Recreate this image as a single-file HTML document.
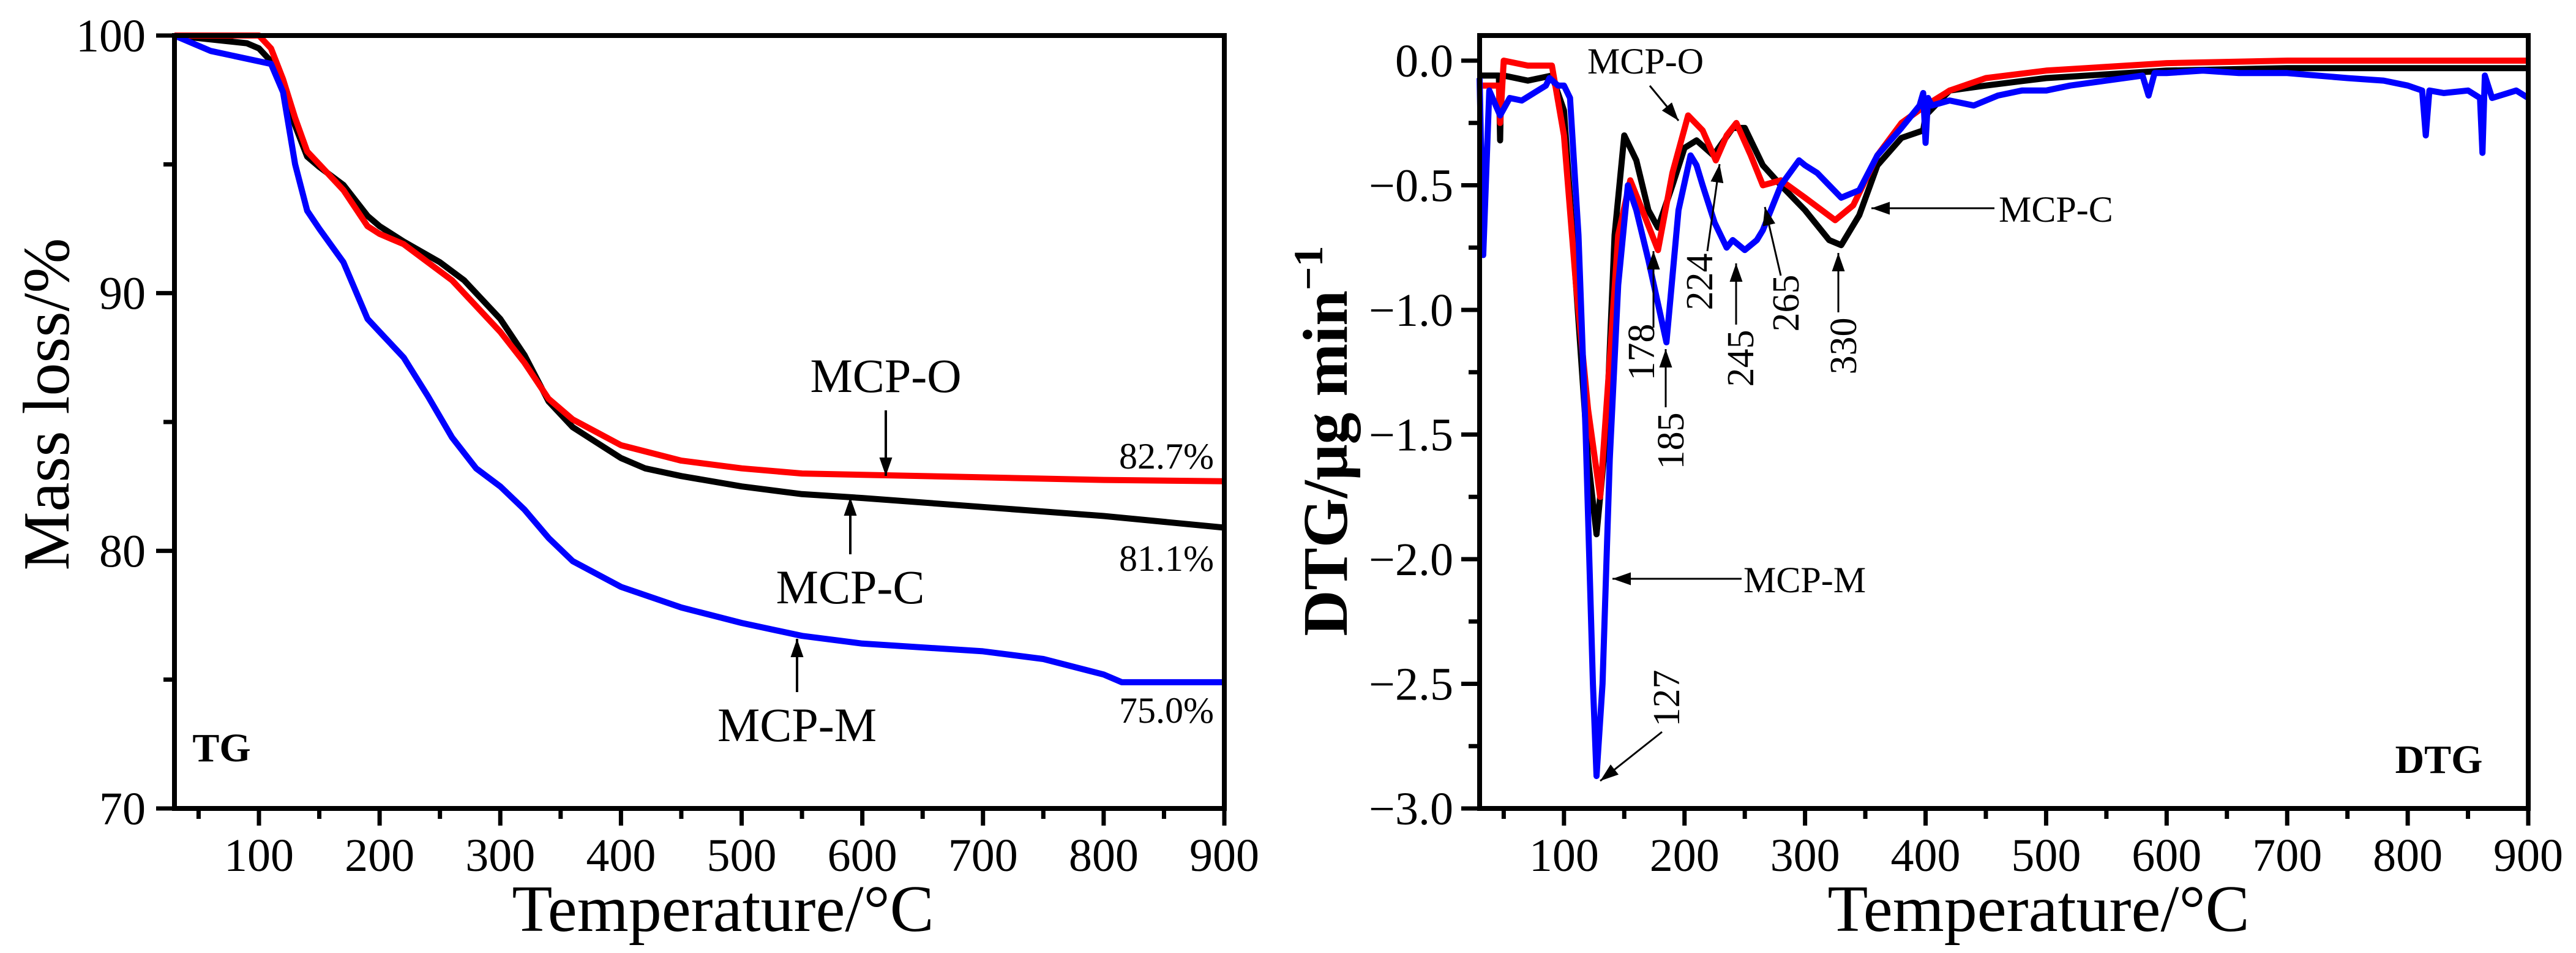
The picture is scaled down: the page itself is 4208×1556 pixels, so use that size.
<!DOCTYPE html>
<html><head><meta charset="utf-8"><style>
html,body{margin:0;padding:0;background:#fff}
svg{display:block}
text{font-family:"Liberation Serif",serif;fill:#000}
</style></head><body>
<svg id="fig" width="4208" height="1556" viewBox="0 0 4208 1556" xmlns="http://www.w3.org/2000/svg">
<defs>
<marker id="ah2" viewBox="0 0 10 10" refX="10" refY="5" markerWidth="30" markerHeight="30" orient="auto" markerUnits="userSpaceOnUse"><path d="M0,1.5 L10,5 L0,8.5 z" fill="#000"/></marker>
</defs>
<g id="tg"></g>
<g id="dtg"></g>
</svg>
<script>
// ---------- TG data ----------
const tgXTicks = [100,200,300,400,500,600,700,800,900];
const tgYTicks = [70,80,90,100];
const tgRedT = [30,100,110,120,130,140,150,170,190,200,220,240,260,280,300,320,340,360,380,400,450,500,550,600,700,800,900];
const tgRedV = [100,100,99.5,98.3,96.8,95.5,95,94,92.6,92.3,91.9,91.2,90.5,89.5,88.5,87.3,85.9,85.1,84.6,84.1,83.5,83.2,83.0,82.95,82.85,82.75,82.7];
const tgBlackT = [30,90,100,110,120,130,140,150,170,190,200,220,250,270,300,320,340,360,380,400,420,450,500,550,600,700,800,900];
const tgBlackV = [100,99.7,99.5,99,98,96.5,95.3,94.9,94.2,93,92.6,92,91.2,90.5,89,87.6,85.8,84.8,84.2,83.6,83.2,82.9,82.5,82.2,82.05,81.7,81.35,80.9];
const tgBlueT = [30,60,100,110,120,130,140,150,170,190,200,220,240,260,280,300,320,340,360,380,400,450,500,550,600,700,750,800,815,900];
const tgBlueV = [100,99.4,99,98.9,97.8,95,93.2,92.5,91.2,89,88.5,87.5,86,84.4,83.2,82.5,81.6,80.5,79.6,79.1,78.6,77.8,77.2,76.7,76.4,76.1,75.8,75.2,74.9,74.9];

// ---------- DTG data ----------
const dtgXTicks = [100,200,300,400,500,600,700,800,900];
const dtgYTicks = [0.0,-0.5,-1.0,-1.5,-2.0,-2.5,-3.0];
const dtgYLabels = ["0.0","\u22120.5","\u22121.0","\u22121.5","\u22122.0","\u22122.5","\u22123.0"];
const dtgBlackT = [30,46,47,48,50,70,90,100,110,120,127,135,142,150,160,170,178,190,200,210,224,240,250,265,280,300,320,330,345,360,380,398,400,420,450,500,600,700,800,900];
const dtgBlackV = [-0.06,-0.06,-0.32,-0.06,-0.06,-0.08,-0.06,-0.2,-0.9,-1.6,-1.9,-1.5,-0.7,-0.3,-0.4,-0.6,-0.67,-0.5,-0.35,-0.32,-0.38,-0.27,-0.27,-0.42,-0.5,-0.6,-0.72,-0.74,-0.62,-0.42,-0.31,-0.28,-0.22,-0.12,-0.1,-0.07,-0.04,-0.03,-0.03,-0.03];
const dtgRedT = [30,46,47,50,70,90,100,110,120,130,138,145,155,165,178,190,203,215,226,235,243,255,265,280,300,325,340,360,380,400,420,450,500,600,700,900];
const dtgRedV = [-0.1,-0.1,-0.25,0.0,-0.02,-0.02,-0.3,-0.9,-1.4,-1.75,-1.2,-0.7,-0.48,-0.6,-0.76,-0.45,-0.22,-0.28,-0.4,-0.3,-0.25,-0.38,-0.5,-0.48,-0.55,-0.64,-0.58,-0.38,-0.25,-0.18,-0.12,-0.07,-0.04,-0.01,0.0,0.0];
const dtgBlueT = [30,33,38,47,55,65,75,85,88,95,100,105,112,118,124,127,132,138,145,153,160,170,185,195,205,210,215,225,235,240,250,260,265,280,295,300,310,320,330,345,360,380,395,398,400,402,405,420,440,460,480,500,520,550,580,585,590,600,630,660,700,750,780,800,812,815,818,830,850,860,862,864,870,890,900];
const dtgBlueV = [-0.07,-0.78,-0.12,-0.22,-0.15,-0.16,-0.13,-0.1,-0.07,-0.1,-0.1,-0.15,-0.7,-1.5,-2.5,-2.87,-2.5,-1.6,-0.9,-0.5,-0.6,-0.8,-1.13,-0.6,-0.38,-0.42,-0.5,-0.65,-0.75,-0.72,-0.76,-0.72,-0.68,-0.5,-0.4,-0.42,-0.45,-0.5,-0.55,-0.52,-0.38,-0.27,-0.18,-0.13,-0.33,-0.15,-0.18,-0.16,-0.18,-0.14,-0.12,-0.12,-0.1,-0.08,-0.06,-0.14,-0.05,-0.05,-0.04,-0.05,-0.05,-0.07,-0.08,-0.1,-0.12,-0.3,-0.12,-0.13,-0.12,-0.15,-0.37,-0.06,-0.15,-0.12,-0.15];

const NS = "http://www.w3.org/2000/svg";
function mk(parent, tag, attrs, txt){
  const e = document.createElementNS(NS, tag);
  for (const k in attrs) e.setAttribute(k, attrs[k]);
  if (txt !== undefined) e.textContent = txt;
  parent.appendChild(e);
  return e;
}
function scale(d0,d1,r0,r1){ return v => r0 + (v-d0)/(d1-d0)*(r1-r0); }
function pathOf(T,V,sx,sy){ return T.map((t,i)=>(i?"L":"M")+sx(t).toFixed(1)+","+sy(V[i]).toFixed(1)).join(" "); }

// ===== TG =====
{
  const g = document.getElementById('tg');
  const L=285,R=2000,Tp=58,B=1320;
  const sx = scale(30,900,L,R), sy = scale(70,100,B,Tp);
  for (let t=50;t<=900;t+=50){
    const major = t%100===0;
    const tk = mk(g,'line',{x1:sx(t),x2:sx(t),y1:B,y2:B+(major?28:17),stroke:'#000','stroke-width':7});
    
    
  }
  tgXTicks.forEach(t=>{
    const e = mk(g,'text',{x:sx(t),y:1422,'font-size':76,'text-anchor':'middle'},String(t));
    
    
  });
  for (let v=70;v<=100;v+=5){
    const major = v%10===0;
    const tk = mk(g,'line',{x1:L-(major?30:18),x2:L,y1:sy(v),y2:sy(v),stroke:'#000','stroke-width':7});
    
    
  }
  tgYTicks.forEach(v=>{
    const e = mk(g,'text',{x:238,y:sy(v)+26,'font-size':76,'text-anchor':'end'},String(v));
    
    
  });
  const series=[[tgBlackT,tgBlackV,'#000','mcp-c-tg-line'],[tgRedT,tgRedV,'#ff0000','mcp-o-tg-line'],[tgBlueT,tgBlueV,'#0000ff','mcp-m-tg-line']];
  series.forEach(s=>{
    const p = mk(g,'path',{d:pathOf(s[0],s[1],sx,sy),fill:'none',stroke:s[2],'stroke-width':10,'stroke-linejoin':'round'});
    
    
  });
  const fr = mk(g,'rect',{x:L,y:Tp,width:R-L,height:B-Tp,fill:'none',stroke:'#000','stroke-width':8});
  
  
  const xt = mk(g,'text',{x:1181,y:1520,'font-size':108,'text-anchor':'middle'},'Temperature/°C');
  
  
  const yt = mk(g,'text',{x:0,y:0,'font-size':108,'text-anchor':'middle',transform:'translate(112,660) rotate(-90)'},'Mass loss/%');
  
  
  const tgl = mk(g,'text',{x:362,y:1243,'font-size':66,'font-weight':'bold','text-anchor':'middle'},'TG');
  
  
  const labels=[['MCP-O',1447,640,'mcp-o-label'],['MCP-C',1389,985,'mcp-c-label'],['MCP-M',1302,1210,'mcp-m-label']];
  labels.forEach(l=>{
    const e = mk(g,'text',{x:l[1],y:l[2],'font-size':78,'text-anchor':'middle'},l[0]);
    
    
  });
  const arrows=[[1447,670,1447,777,'mcp-o-arrow'],[1389,905,1389,812,'mcp-c-arrow'],[1302,1130,1302,1043,'mcp-m-arrow']];
  arrows.forEach(a=>{
    const e = mk(g,'line',{x1:a[0],y1:a[1],x2:a[2],y2:a[3],stroke:'#000','stroke-width':4,'marker-end':'url(#ah2)'});
    
    
  });
  const pct=[['82.7%',765,'mcp-o-final-value'],['81.1%',932,'mcp-c-final-value'],['75.0%',1180,'mcp-m-final-value']];
  pct.forEach(p=>{
    const e = mk(g,'text',{x:1983,y:p[1],'font-size':60,'text-anchor':'end'},p[0]);
    
    
  });
}

// ===== DTG =====
{
  const g = document.getElementById('dtg');
  const L=2417,R=4130,Tp=58,B=1320;
  const sx = scale(30,900,L,R), sy = scale(-3,0,B,99);
  for (let t=50;t<=900;t+=50){
    const major = t%100===0;
    const tk = mk(g,'line',{x1:sx(t),x2:sx(t),y1:B,y2:B+(major?28:17),stroke:'#000','stroke-width':7});
    
    
  }
  dtgXTicks.forEach(t=>{
    const e = mk(g,'text',{x:sx(t),y:1422,'font-size':76,'text-anchor':'middle'},String(t));
    
    
  });
  for (let k=0;k<=12;k++){
    const v = -k*0.25, major = k%2===0;
    const tk = mk(g,'line',{x1:L-(major?30:18),x2:L,y1:sy(v),y2:sy(v),stroke:'#000','stroke-width':7});
    
    
  }
  dtgYTicks.forEach((v,i)=>{
    const e = mk(g,'text',{x:2374,y:sy(v)+26,'font-size':76,'text-anchor':'end'},dtgYLabels[i]);
    
    
  });
  const series=[[dtgBlackT,dtgBlackV,'#000','mcp-c-dtg-line'],[dtgRedT,dtgRedV,'#ff0000','mcp-o-dtg-line'],[dtgBlueT,dtgBlueV,'#0000ff','mcp-m-dtg-line']];
  series.forEach(s=>{
    const p = mk(g,'path',{d:pathOf(s[0],s[1],sx,sy),fill:'none',stroke:s[2],'stroke-width':10,'stroke-linejoin':'round'});
    
    
  });
  const fr = mk(g,'rect',{x:L,y:Tp,width:R-L,height:B-Tp,fill:'none',stroke:'#000','stroke-width':8});
  
  
  const xt = mk(g,'text',{x:3330,y:1520,'font-size':108,'text-anchor':'middle'},'Temperature/°C');
  
  
  const yt = mk(g,'text',{x:0,y:0,'font-size':104,'font-weight':'bold','text-anchor':'middle',transform:'translate(2200,720) rotate(-90)'});
  
  
  mk(yt,'tspan',{},'DTG/μg min');
  mk(yt,'tspan',{dy:-40,'font-size':68},'\u22121');
  const dl = mk(g,'text',{x:3984,y:1262,'font-size':66,'font-weight':'bold','text-anchor':'middle'},'DTG');
  
  
  const labels=[['MCP-O',2688,120,'middle','mcp-o-label'],['MCP-C',3265,362,'start','mcp-c-label'],['MCP-M',2848,967,'start','mcp-m-label']];
  labels.forEach(l=>{
    const e = mk(g,'text',{x:l[1],y:l[2],'font-size':60,'text-anchor':l[3]},l[0]);
    
    
  });
  const arrows=[[2695,140,2742,197,'mcp-o-arrow'],[3258,340,3057,340,'mcp-c-arrow'],[2845,945,2634,945,'mcp-m-arrow'],
    [2715,1195,2614,1275,'peak-127-arrow'],[2701,535,2701,410,'peak-178-arrow'],[2721,665,2721,570,'peak-185-arrow'],
    [2789,410,2809,268,'peak-224-arrow'],[2836,530,2836,430,'peak-245-arrow'],[2909,450,2883,338,'peak-265-arrow'],[3003,510,3003,413,'peak-330-arrow']];
  arrows.forEach(a=>{
    const e = mk(g,'line',{x1:a[0],y1:a[1],x2:a[2],y2:a[3],stroke:'#000','stroke-width':3,'marker-end':'url(#ah2)'});
    
    
  });
  const peaks=[['127',2722,1140],['178',2681,575],['185',2729,720],['224',2776,460],['245',2843,585],['265',2917,495],['330',3011,565]];
  peaks.forEach(p=>{
    const e = mk(g,'text',{x:0,y:0,'font-size':62,'text-anchor':'middle',transform:`translate(${p[1]+21},${p[2]}) rotate(-90)`},p[0]);
    
    
  });
}
</script>
</body></html>
